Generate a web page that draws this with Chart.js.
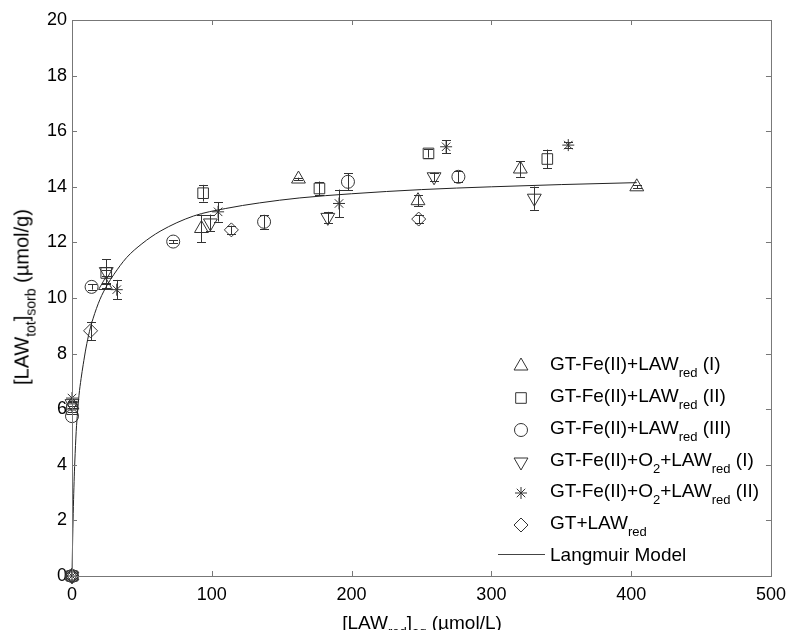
<!DOCTYPE html>
<html>
<head>
<meta charset="utf-8">
<script src="https://cdn.jsdelivr.net/npm/chart.js@4.4.0/dist/chart.umd.min.js"></script>
<style>
  body { margin: 0; background: #fff; }
  #wrap { position: relative; width: 794px; height: 630px; overflow: hidden; font-family: "Liberation Sans", Arial, sans-serif; }
  canvas { position: absolute; left: 0; top: 0; }
  .lbl { position: absolute; font-size: 19px; line-height: 19px; white-space: nowrap; color: #000; }
  .lbl sub { font-size: 13px; line-height: 0; vertical-align: -7px; }
  #xtitle { left: 422px; top: 613px; transform: translateX(-50%); }
  #ytitle { left: 22px; top: 297px; font-size: 20px; transform: translate(-50%, -50%) rotate(-90deg); }
  #ytitle sub { font-size: 14px; }
</style>
</head>
<body>
<div id="wrap">
  <canvas id="chart" width="794" height="630"></canvas>
  <div class="lbl" id="xtitle">[LAW<sub>red</sub>]<sub>aq</sub> (µmol/L)</div>
  <div class="lbl" id="ytitle">[LAW<sub>tot</sub>]<sub>sorb</sub> (µmol/g)</div>
  <div class="lbl" style="left:550px;top:354px">GT-Fe(II)+LAW<sub>red</sub> (I)</div>
  <div class="lbl" style="left:550px;top:386px">GT-Fe(II)+LAW<sub>red</sub> (II)</div>
  <div class="lbl" style="left:550px;top:418px">GT-Fe(II)+LAW<sub>red</sub> (III)</div>
  <div class="lbl" style="left:550px;top:450px">GT-Fe(II)+O<sub>2</sub>+LAW<sub>red</sub> (I)</div>
  <div class="lbl" style="left:550px;top:481px">GT-Fe(II)+O<sub>2</sub>+LAW<sub>red</sub> (II)</div>
  <div class="lbl" style="left:550px;top:513px">GT+LAW<sub>red</sub></div>
  <div class="lbl" style="left:550px;top:545px">Langmuir Model</div>
</div>
<script>
// valores
const triX = [0, 0, 24, 92.6, 162, 247.5, 320.7, 404];
const triY = [0, 6.15, 10.45, 12.5, 14.28, 13.5, 14.64, 14.0];
const triErr = [0, 0.1, 0.1, 0.5, 0.05, 0.2, 0.28, 0.05];

const sqX = [0, 0, 24.5, 93.8, 177, 255, 340];
const sqY = [0, 6.0, 10.9, 13.77, 13.94, 15.2, 15.0];
const sqErr = [0, 0.1, 0.1, 0.3, 0.25, 0.15, 0.34];

const circX = [0, 0, 14, 72.4, 137.4, 197.4, 276.4];
const circY = [0, 5.75, 10.4, 12.03, 12.74, 14.18, 14.36];
const circErr = [0, 0, 0.1, 0.05, 0.25, 0.3, 0.2];

const dtriX = [0, 0, 24.5, 99, 183, 259, 330.7];
const dtriY = [0, 6.2, 10.95, 12.7, 12.9, 14.36, 13.59];
const dtriErr = [0, 0.1, 0.45, 0.3, 0.2, 0.15, 0.42];

const starX = [0, 0, 32, 104.5, 191, 267.6, 355];
const starY = [0, 6.4, 10.3, 13.1, 13.4, 15.44, 15.5];
const starErr = [0, 0, 0.35, 0.35, 0.5, 0.24, 0.1];

const diaX = [0, 13.3, 114, 248];
const diaY = [0, 8.82, 12.45, 12.84];
const diaErr = [0, 0.33, 0.15, 0.15];

// curva Langmuir (leída)
const curveX = [0, 0.5, 1, 1.5, 2, 3, 4, 5, 6.5, 8, 10, 12.5, 15, 20, 25, 30, 39, 50, 63, 87, 110, 134, 163, 200, 250, 300, 350, 404];
const curveY = [0, 1.4, 2.5, 3.4, 4.1, 5.2, 5.9, 6.5, 7.1, 7.6, 8.2, 8.8, 9.25, 9.95, 10.45, 10.85, 11.45, 11.95, 12.4, 12.95, 13.22, 13.42, 13.6, 13.75, 13.9, 14.0, 14.08, 14.15];

const xTicks = [0, 100, 200, 300, 400, 500];
const yTicks = [0, 2, 4, 6, 8, 10, 12, 14, 16, 18, 20];

const markColor = "#333";
const font = { family: "'Liberation Sans', Arial, sans-serif", size: 18 };

function pts(xs, ys) {
  return xs.map((x, i) => ({ x: x, y: ys[i] }));
}

function serie(xs, ys, errs, style, r, rot) {
  return {
    type: 'scatter',
    data: pts(xs, ys),
    errors: errs,
    pointStyle: style,
    pointRadius: r,
    pointRotation: rot || 0,
    pointBorderColor: markColor,
    pointBackgroundColor: 'rgba(0,0,0,0)',
    pointBorderWidth: 1,
    borderColor: markColor,
    backgroundColor: 'rgba(0,0,0,0)',
    showLine: false,
    clip: false
  };
}

const series = [
  serie(triX, triY, triErr, 'triangle', 8, 0),
  serie(sqX, sqY, sqErr, 'rect', 7.5, 0),
  serie(circX, circY, circErr, 'circle', 6.5, 0),
  serie(dtriX, dtriY, dtriErr, 'triangle', 8, 180),
  serie(starX, starY, starErr, 'star', 6, 0),
  serie(diaX, diaY, diaErr, 'rectRot', 7, 0)
];

// marcador propio para la leyenda
function drawMarker(ctx, style, x, y, r, rot) {
  ctx.beginPath();
  if (style === 'triangle') {
    const s = rot ? -1 : 1;
    ctx.moveTo(x, y - s * r);
    ctx.lineTo(x + 0.866 * r, y + s * 0.5 * r);
    ctx.lineTo(x - 0.866 * r, y + s * 0.5 * r);
    ctx.closePath();
  } else if (style === 'rect') {
    const h = r * Math.SQRT1_2;
    ctx.rect(x - h, y - h, 2 * h, 2 * h);
  } else if (style === 'circle') {
    ctx.arc(x, y, r, 0, Math.PI * 2);
  } else if (style === 'rectRot') {
    ctx.moveTo(x, y - r);
    ctx.lineTo(x + r, y);
    ctx.lineTo(x, y + r);
    ctx.lineTo(x - r, y);
    ctx.closePath();
  } else if (style === 'star') {
    for (let k = 0; k < 4; k++) {
      const a = k * Math.PI / 4;
      ctx.moveTo(x - Math.cos(a) * r, y - Math.sin(a) * r);
      ctx.lineTo(x + Math.cos(a) * r, y + Math.sin(a) * r);
    }
  }
  ctx.stroke();
}

const legendRows = [366, 398, 430, 462, 493, 525];

const extras = {
  id: 'extras',
  beforeDatasetsDraw(chart) {
    const ctx = chart.ctx;
    const xs = chart.scales.x, ys = chart.scales.y;
    ctx.save();
    ctx.strokeStyle = markColor;
    ctx.lineWidth = 1;
    chart.data.datasets.forEach(ds => {
      if (!ds.errors) return;
      ds.data.forEach((p, i) => {
        const e = ds.errors[i];
        if (!e) return;
        const px = Math.round(xs.getPixelForValue(p.x)) + 0.5;
        const y1 = ys.getPixelForValue(p.y - e);
        const y2 = ys.getPixelForValue(p.y + e);
        ctx.beginPath();
        ctx.moveTo(px, y1); ctx.lineTo(px, y2);
        ctx.moveTo(px - 4.5, Math.round(y1) + 0.5); ctx.lineTo(px + 4.5, Math.round(y1) + 0.5);
        ctx.moveTo(px - 4.5, Math.round(y2) + 0.5); ctx.lineTo(px + 4.5, Math.round(y2) + 0.5);
        ctx.stroke();
      });
    });
    ctx.restore();
  },
  afterDraw(chart) {
    const ctx = chart.ctx;
    const a = chart.chartArea;
    const xs = chart.scales.x, ys = chart.scales.y;
    ctx.save();
    ctx.strokeStyle = '#777';
    ctx.lineWidth = 1;
    ctx.strokeRect(a.left + 0.5, a.top + 0.5, a.right - a.left, a.bottom - a.top);
    ctx.beginPath();
    xTicks.forEach(v => {
      const px = Math.round(xs.getPixelForValue(v)) + 0.5;
      ctx.moveTo(px, a.bottom); ctx.lineTo(px, a.bottom - 5);
      ctx.moveTo(px, a.top); ctx.lineTo(px, a.top + 5);
    });
    yTicks.forEach(v => {
      const py = Math.round(ys.getPixelForValue(v)) + 0.5;
      ctx.moveTo(a.left, py); ctx.lineTo(a.left + 5, py);
      ctx.moveTo(a.right, py); ctx.lineTo(a.right - 5, py);
    });
    ctx.stroke();

    // leyenda: marcadores y línea
    ctx.strokeStyle = markColor;
    series.forEach((s, i) => {
      drawMarker(ctx, s.pointStyle, 521, legendRows[i], s.pointRadius, s.pointRotation);
    });
    ctx.strokeStyle = '#444';
    ctx.beginPath();
    ctx.moveTo(498, 554.5); ctx.lineTo(545, 554.5);
    ctx.stroke();
    ctx.restore();
  }
};

new Chart(document.getElementById('chart'), {
  data: {
    datasets: [
      {
        type: 'line',
        data: pts(curveX, curveY),
        borderColor: '#222',
        borderWidth: 1,
        pointRadius: 0,
        fill: false,
        cubicInterpolationMode: 'monotone',
        clip: false
      },
      ...series
    ]
  },
  options: {
    responsive: false,
    animation: false,
    layout: { padding: { top: 20, right: 18, left: 0, bottom: 0 } },
    plugins: {
      legend: { display: false },
      tooltip: { enabled: false }
    },
    scales: {
      x: {
        type: 'linear',
        min: 0, max: 500,
        afterBuildTicks: s => { s.ticks = xTicks.map(v => ({ value: v })); },
        ticks: { color: '#000', font: font, padding: 8, maxRotation: 0 },
        grid: { display: false, drawTicks: false },
        border: { display: false },
        afterFit: s => { s.height = 54; }
      },
      y: {
        type: 'linear',
        min: 0, max: 20,
        afterBuildTicks: s => { s.ticks = yTicks.map(v => ({ value: v })); },
        ticks: { color: '#000', font: font, padding: 5 },
        grid: { display: false, drawTicks: false },
        border: { display: false },
        afterFit: s => { s.width = 72; }
      }
    }
  },
  plugins: [extras]
});
</script>
</body>
</html>
